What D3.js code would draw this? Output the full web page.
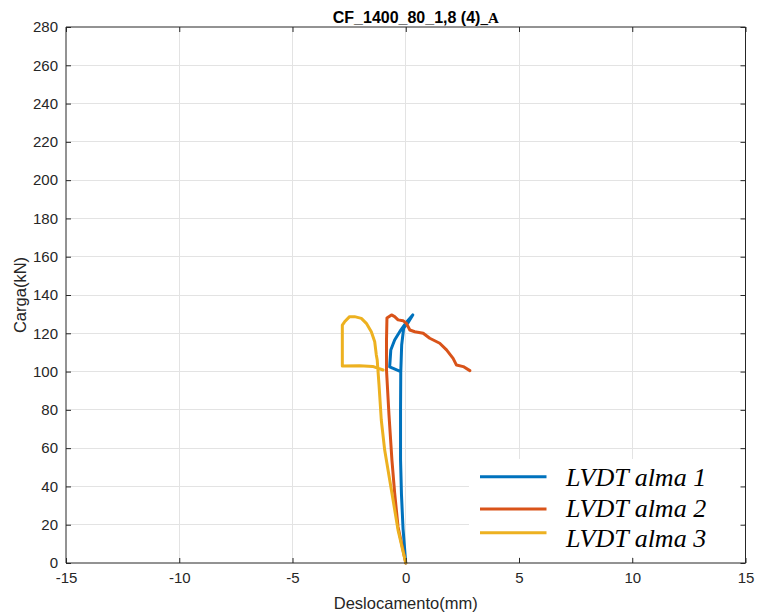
<!DOCTYPE html>
<html>
<head>
<meta charset="utf-8">
<script src="https://cdn.jsdelivr.net/npm/d3@7"></script>
<style>
  html, body { margin: 0; padding: 0; background: #fff; }
  svg { display: block; }
</style>
</head>
<body>
<script>
// ---- data ----
const xTicks = [-15, -10, -5, 0, 5, 10, 15];
const yTicks = [0, 20, 40, 60, 80, 100, 120, 140, 160, 180, 200, 220, 240, 260, 280];
const seriesNames = ["LVDT alma 1", "LVDT alma 2", "LVDT alma 3"];
const seriesColors = ["#0072BD", "#D95319", "#EDB120"];

const alma1X = [0, -0.12, -0.19, -0.23, -0.23, -0.22, -0.71, -0.66, -0.49, -0.22, 0.04, 0.31, 0.10, -0.09, -0.18, -0.22];
const alma1Y = [0, 18, 36, 54, 80, 100, 102.4, 111.3, 116.5, 121.7, 125.9, 129.6, 125.5, 122.8, 113.9, 99.8];

const alma2X = [0, -0.34, -0.49, -0.61, -0.74, -0.85, -0.85, -0.83, -0.63, -0.49, -0.34, -0.12, 0.03, 0.18, 0.40, 0.77, 1.06, 1.50, 1.80, 2.09, 2.24, 2.54, 2.83];
const alma2Y = [0, 18.8, 36.6, 53.8, 77.3, 100.8, 116.5, 128, 129.6, 128.7, 127, 126.6, 125.2, 121.7, 120.8, 120, 117.4, 114.8, 111.3, 106.9, 103.4, 102.6, 100.5];

const alma3X = [0, -0.34, -0.56, -0.93, -1.08, -1.18, -1.26, -1.30, -1.37, -1.52, -1.74, -1.96, -2.26, -2.48, -2.70, -2.80, -2.80, -2.04, -1.46, -1.00];
const alma3Y = [0, 17.2, 32.9, 59, 74.7, 93, 106, 108.7, 115.6, 120.8, 125.2, 127.8, 128.7, 128.7, 126, 124.3, 102.9, 103.1, 102.7, 100.8];

const titleMain = "CF_1400_80_1,8 (4)";
const titleSuffix = "_A";
const xLabel = "Deslocamento(mm)";
const yLabel = "Carga(kN)";

// ---- layout ----
const W = 757, H = 615;
const L = 66, R = 745.5, T = 27, B = 563;

const svg = d3.select("body").append("svg").attr("width", W).attr("height", H);

const x = d3.scaleLinear().domain([-15, 15]).range([L, R]);
const y = d3.scaleLinear().domain([0, 280]).range([B, T]);

const axisColor = "#262626";
const gridColor = "#e3e3e3";

// grid
const grid = svg.append("g");
grid.selectAll(".gx").data(xTicks.slice(1, -1)).enter().append("line")
  .attr("x1", d => x(d)).attr("x2", d => x(d)).attr("y1", T).attr("y2", B)
  .attr("stroke", gridColor).attr("stroke-width", 1).attr("shape-rendering", "crispEdges");
grid.selectAll(".gy").data(yTicks.slice(1, -1)).enter().append("line")
  .attr("y1", d => y(d)).attr("y2", d => y(d)).attr("x1", L).attr("x2", R)
  .attr("stroke", gridColor).attr("stroke-width", 1).attr("shape-rendering", "crispEdges");

// series
const series = [
  { xs: alma1X, ys: alma1Y },
  { xs: alma2X, ys: alma2Y },
  { xs: alma3X, ys: alma3Y }
];
const line = d3.line().x(d => x(d[0])).y(d => y(d[1]));
series.forEach((s, i) => {
  const pts = s.xs.map((v, k) => [v, s.ys[k]]);
  svg.append("path").datum(pts)
    .attr("d", line)
    .attr("fill", "none")
    .attr("stroke", seriesColors[i])
    .attr("stroke-width", 3)
    .attr("stroke-linejoin", "round")
    .attr("stroke-linecap", "round");
});

// axes (ticks inward)
const fontSans = "Arial, 'Liberation Sans', Helvetica, sans-serif";
const fmt = d => String(d);
const xAxis = d3.axisBottom(x).tickValues(xTicks).tickSize(-5).tickPadding(9).tickFormat(fmt);
const yAxis = d3.axisLeft(y).tickValues(yTicks).tickSize(-5).tickPadding(8).tickFormat(fmt);
const xTop = d3.axisTop(x).tickValues(xTicks).tickSize(-5).tickFormat("");
const yRight = d3.axisRight(y).tickValues(yTicks).tickSize(-5).tickFormat("");

function styleAxis(g) {
  g.select(".domain").attr("stroke", axisColor).attr("stroke-width", 1);
  g.selectAll(".tick line").attr("stroke", axisColor);
  g.selectAll(".tick text").attr("fill", axisColor).style("font-family", fontSans).style("font-size", "15px");
}

// legend background (drawn before axes so axes stay on top)
const legX = 469, legY = 459, legW = 275, legH = 98;
svg.append("rect").attr("x", legX).attr("y", legY).attr("width", legW).attr("height", legH).attr("fill", "#fff");

svg.append("g").attr("transform", `translate(0,${B})`).call(xAxis).call(styleAxis)
  .call(g => g.select(".domain").attr("d", `M${L},0H${R}`));
svg.append("g").attr("transform", `translate(${L},0)`).call(yAxis).call(styleAxis)
  .call(g => g.select(".domain").attr("d", `M0,${B}V${T}`));
svg.append("g").attr("transform", `translate(0,${T})`).call(xTop).call(styleAxis)
  .call(g => g.select(".domain").attr("d", `M${L},0H${R}`));
svg.append("g").attr("transform", `translate(${R},0)`).call(yRight).call(styleAxis)
  .call(g => g.select(".domain").attr("d", `M0,${B}V${T}`));

// legend entries
const legendLineYs = [476.7, 509, 532.7];
const legendTextYs = [486, 517, 547];
seriesNames.forEach((name, i) => {
  svg.append("line")
    .attr("x1", 480).attr("x2", 546.5)
    .attr("y1", legendLineYs[i]).attr("y2", legendLineYs[i])
    .attr("stroke", seriesColors[i]).attr("stroke-width", 3);
  svg.append("text")
    .attr("x", 566).attr("y", legendTextYs[i])
    .attr("fill", "#000")
    .style("font-family", "'Liberation Serif', 'Times New Roman', serif")
    .style("font-style", "italic")
    .style("font-size", "26px")
    .text(name);
});

// axis labels
svg.append("text")
  .attr("x", (L + R) / 2).attr("y", 609)
  .attr("text-anchor", "middle").attr("fill", axisColor)
  .style("font-family", fontSans).style("font-size", "16.5px")
  .text(xLabel);
svg.append("text")
  .attr("transform", `translate(26,${(T + B) / 2}) rotate(-90)`)
  .attr("text-anchor", "middle").attr("fill", axisColor)
  .style("font-family", fontSans).style("font-size", "16.5px")
  .text(yLabel);

// title
const title = svg.append("text")
  .attr("x", (L + R) / 2 + 10).attr("y", 23)
  .attr("text-anchor", "middle").attr("fill", "#000")
  .style("font-weight", "bold");
title.append("tspan").style("font-family", fontSans).style("font-size", "16px").text(titleMain);
title.append("tspan").style("font-family", "'Liberation Serif', 'Times New Roman', serif").style("font-size", "15px").text(titleSuffix);
</script>
</body>
</html>
